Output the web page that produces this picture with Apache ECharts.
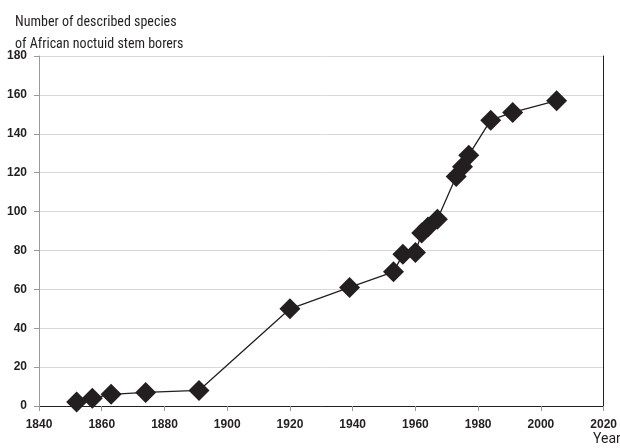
<!DOCTYPE html>
<html>
<head>
<meta charset="utf-8">
<script src="https://cdn.jsdelivr.net/npm/echarts@6/dist/echarts.min.js"></script>
<style>html,body{margin:0;padding:0;background:#fff}#c{width:620px;height:448px}</style>
</head>
<body>
<div id="c"></div>
<script>
const years = [1852, 1857, 1863, 1874, 1891, 1920, 1939, 1953, 1956, 1960, 1962, 1964, 1967, 1973, 1975, 1977, 1984, 1991, 2005];
const species = [2, 4, 6, 7, 8, 50, 61, 69, 78, 79, 89, 92, 96, 118, 123, 129, 147, 151, 157];
const xTicks = [1840, 1860, 1880, 1900, 1920, 1940, 1960, 1980, 2000, 2020];
const yTicks = [0, 20, 40, 60, 80, 100, 120, 140, 160, 180];

const ink = '#231f20';
const chart = echarts.init(document.getElementById('c'), null, {renderer: 'canvas'});
const lblFont = {fontFamily: 'Liberation Sans', fontWeight: 'bold', fontSize: 12, color: ink, formatter: v => String(v)};
chart.setOption({
  animation: false,
  grid: {left: 39, right: 14, top: 56, bottom: 42},
  graphic: [
    {type: 'text', left: 15, top: 11, style: {text: 'Number of described species\nof African noctuid stem borers', font: '14px "Liberation Sans Narrow", "Roboto Condensed", Roboto', fill: ink, lineHeight: 22}},
    {type: 'text', left: 593, top: 432, style: {text: 'Year', font: '14px "Liberation Sans Narrow", Roboto', fill: ink}}
  ],
  xAxis: [{
    type: 'value', min: xTicks[0], max: xTicks[xTicks.length - 1], interval: 20,
    axisLine: {show: true, lineStyle: {color: '#9a9a9a', width: 1}},
    axisTick: {show: true, length: 5, lineStyle: {color: '#9a9a9a'}},
    splitLine: {show: false},
    axisLabel: Object.assign({margin: 13}, lblFont)
  }, {
    type: 'value', position: 'top', min: xTicks[0], max: xTicks[xTicks.length - 1], interval: 20,
    axisLine: {show: true, lineStyle: {color: ink, width: 1}},
    axisTick: {show: false}, axisLabel: {show: false}, splitLine: {show: false}
  }],
  yAxis: [{
    type: 'value', min: yTicks[0], max: yTicks[yTicks.length - 1], interval: 20,
    axisLine: {show: true, lineStyle: {color: '#9a9a9a', width: 1}},
    axisTick: {show: true, length: 5, lineStyle: {color: '#9a9a9a'}},
    splitLine: {show: true, lineStyle: {color: '#d9d9d9', width: 1}},
    axisLabel: Object.assign({margin: 12}, lblFont)
  }, {
    type: 'value', position: 'right', min: yTicks[0], max: yTicks[yTicks.length - 1], interval: 20,
    axisLine: {show: true, lineStyle: {color: ink, width: 1}},
    axisTick: {show: false}, axisLabel: {show: false}, splitLine: {show: false}
  }],
  series: [{
    type: 'line',
    data: years.map((y, i) => [y, species[i]]),
    symbol: 'diamond', symbolSize: 21,
    lineStyle: {color: ink, width: 1.3},
    itemStyle: {color: ink},
    z: 5
  }]
});
</script>
</body>
</html>
